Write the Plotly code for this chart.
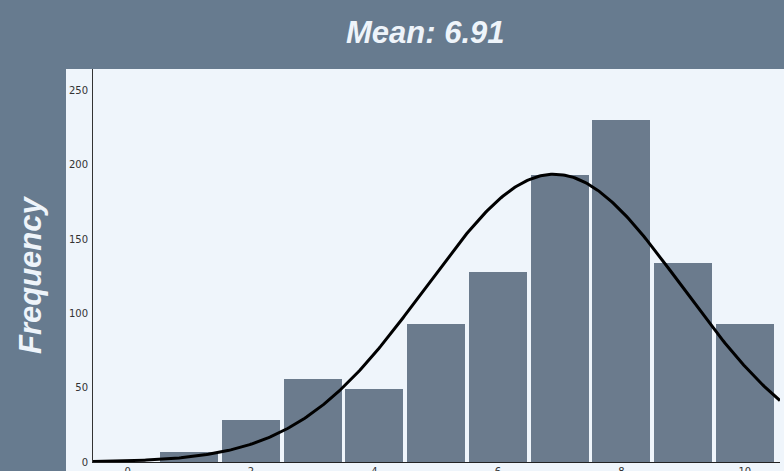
import numpy as np
import plotly.graph_objects as go

# Histogram of scores (bins of width 1, centred on integer scores)
scores = [1, 2, 3, 4, 5, 6, 7, 8, 9, 10]
counts = [7, 28, 56, 49, 93, 128, 193, 230, 134, 93]

SLATE = "#677b8f"
BAR = "#6b7b8d"
LIGHT = "#eff5fb"

# Fitted normal curve scaled to the histogram
x_arr = np.array(scores, dtype=float)
c_arr = np.array(counts, dtype=float)
n_total = c_arr.sum()
mean = (x_arr * c_arr).sum() / n_total
std = np.sqrt(((x_arr - mean) ** 2 * c_arr).sum() / n_total)

x_min, x_max = -0.56, 10.57
xs = np.linspace(x_min, x_max, 400)
ys = n_total * np.exp(-0.5 * ((xs - mean) / std) ** 2) / (std * np.sqrt(2 * np.pi))

fig = go.Figure()
fig.add_trace(go.Bar(
    x=scores, y=counts, width=0.94,
    marker=dict(color=BAR, line=dict(width=0)),
    hoverinfo="x+y",
))
fig.add_trace(go.Scatter(
    x=xs, y=ys, mode="lines",
    line=dict(color="#000000", width=3),
    hoverinfo="skip",
))

W, H = 784, 471
ml, mr, mt, mb = 93, 4, 69, 9
pw, ph = W - ml - mr, H - mt - mb

def px_x(p):
    return (p - ml) / pw

def px_y(p):
    return (H - mb - p) / ph

fig.update_layout(
    width=W, height=H,
    margin=dict(l=ml, r=mr, t=mt, b=mb, autoexpand=False),
    paper_bgcolor=SLATE,
    plot_bgcolor=LIGHT,
    showlegend=False,
    bargap=0,
    font=dict(family="DejaVu Sans", size=10, color="#333333"),
    shapes=[dict(
        type="rect", xref="paper", yref="paper", layer="below",
        x0=px_x(66), x1=px_x(W + 2), y0=px_y(H + 2), y1=px_y(69),
        fillcolor=LIGHT, line=dict(width=0),
    )],
    annotations=[
        dict(text="<b><i>Mean: %.2f</i></b>" % mean, xref="paper", yref="paper",
             x=px_x(425), y=px_y(32), xanchor="center", yanchor="middle",
             showarrow=False,
             font=dict(family="Liberation Sans", size=31, color="#eef4fa")),
        dict(text="<b><i>Frequency</i></b>", xref="paper", yref="paper",
             x=px_x(30), y=px_y(274), xanchor="center", yanchor="middle",
             textangle=-90, showarrow=False,
             font=dict(family="Liberation Sans", size=31, color="#eef4fa")),
    ],
)
fig.update_xaxes(
    range=[x_min, x_max], tickvals=[0, 2, 4, 6, 8, 10],
    showgrid=False, zeroline=False, showline=True, linecolor="#222222",
    linewidth=1, ticks="", layer="below traces", automargin=False,
)
fig.update_yaxes(
    range=[0, max(counts) * 1.15], tickvals=[0, 50, 100, 150, 200, 250],
    showgrid=False, zeroline=False, showline=True, linecolor="#333333",
    linewidth=1, ticks="", ticklabelstandoff=2, layer="below traces",
    automargin=False,
)

fig.write_html("out.html")
